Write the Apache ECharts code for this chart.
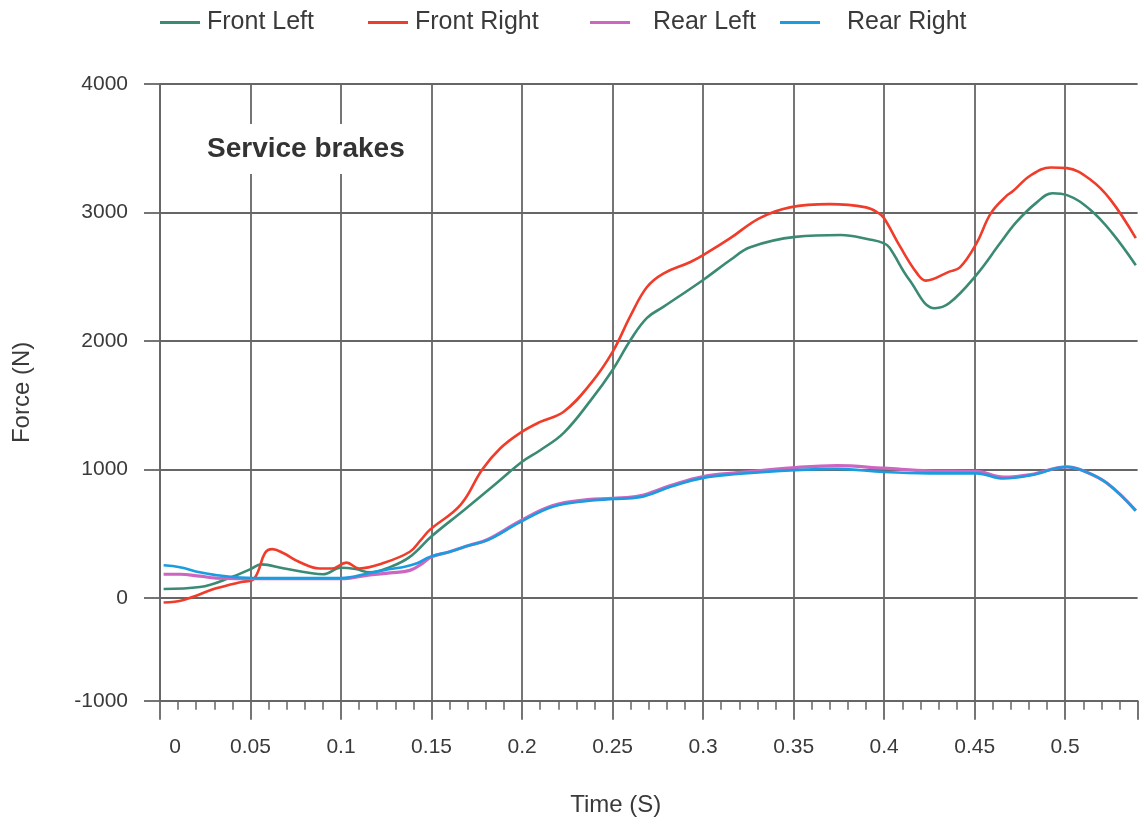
<!DOCTYPE html>
<html><head><meta charset="utf-8">
<script src="https://cdn.jsdelivr.net/npm/echarts@6/dist/echarts.min.js"></script>
<style>html,body{margin:0;padding:0;background:#fff}#c{width:1146px;height:827px}</style>
</head><body><div id="c"></div>
<script>
const seriesNames = ['Front Left', 'Front Right', 'Rear Left', 'Rear Right'];
const seriesColors = ['#3a8a74', '#f03c2a', '#cc66c0', '#1a9de0'];
const chartTitle = 'Service brakes';
const xName = 'Time (S)';
const yName = 'Force (N)';
const yBottomLabel = '-1000';

const frontLeft = [[0.002,70],[0.022,85],[0.040,165],[0.05,225],[0.056,262],[0.068,232],[0.083,195],[0.09,185],[0.1,235],[0.108,225],[0.116,200],[0.127,240],[0.138,320],[0.15,480],[0.168,685],[0.186,895],[0.2,1060],[0.21,1150],[0.223,1285],[0.238,1540],[0.25,1775],[0.26,2010],[0.269,2180],[0.278,2265],[0.3,2475],[0.315,2630],[0.326,2730],[0.351,2810],[0.376,2825],[0.392,2790],[0.4,2760],[0.403,2725],[0.414,2475],[0.428,2255],[0.436,2295],[0.451,2515],[0.464,2760],[0.473,2925],[0.484,3075],[0.493,3150],[0.501,3135],[0.514,3020],[0.526,2840],[0.539,2590]];

const frontRight = [[0.002,-35],[0.013,-15],[0.031,75],[0.045,125],[0.051,140],[0.054,200],[0.058,350],[0.062,380],[0.068,350],[0.077,280],[0.088,230],[0.095,230],[0.103,275],[0.11,230],[0.123,270],[0.138,360],[0.144,450],[0.149,530],[0.166,725],[0.178,1000],[0.188,1165],[0.199,1285],[0.21,1370],[0.223,1450],[0.238,1670],[0.25,1915],[0.26,2200],[0.269,2420],[0.278,2525],[0.293,2615],[0.302,2685],[0.315,2800],[0.331,2955],[0.348,3040],[0.37,3065],[0.39,3040],[0.397,2995],[0.4,2955],[0.409,2730],[0.418,2530],[0.423,2470],[0.436,2540],[0.442,2575],[0.451,2760],[0.459,2995],[0.468,3135],[0.471,3165],[0.481,3290],[0.492,3350],[0.501,3345],[0.514,3255],[0.525,3100],[0.539,2800]];

const rearLeft = [[0.002,185],[0.011,185],[0.022,170],[0.031,155],[0.055,150],[0.08,150],[0.1,150],[0.105,155],[0.116,180],[0.127,195],[0.138,215],[0.145,270],[0.15,320],[0.16,360],[0.171,410],[0.181,455],[0.199,600],[0.217,720],[0.236,765],[0.25,775],[0.265,795],[0.282,875],[0.3,945],[0.319,975],[0.351,1015],[0.374,1030],[0.4,1010],[0.425,990],[0.451,985],[0.466,940],[0.481,960],[0.501,1020],[0.51,990],[0.523,895],[0.539,680]];

const rearRight = [[0.002,255],[0.011,240],[0.022,200],[0.03,180],[0.039,165],[0.055,155],[0.08,155],[0.1,155],[0.116,195],[0.127,225],[0.134,240],[0.142,270],[0.149,320],[0.16,360],[0.171,410],[0.181,450],[0.199,590],[0.217,710],[0.236,755],[0.25,770],[0.265,785],[0.282,865],[0.3,935],[0.319,965],[0.351,995],[0.374,1005],[0.4,980],[0.425,970],[0.451,970],[0.466,930],[0.481,955],[0.501,1020],[0.51,990],[0.523,895],[0.539,680]];

const seriesData = [frontLeft, frontRight, rearLeft, rearRight];

const FONT = '"Liberation Sans", Arial, sans-serif';
const GRIDC = '#666';
const TXT = '#3a3a3a';
const chart = echarts.init(document.getElementById('c'), null, {renderer: 'canvas'});

const legendLefts = [160, 368, 590, 780];
const legendPads = [2, 2, 18, 22];

chart.setOption({
  backgroundColor: '#fff',
  animation: false,
  title: {
    text: chartTitle, left: 203, top: 124,
    backgroundColor: '#fff', padding: [10, 4, 10, 4],
    textStyle: {fontFamily: FONT, fontSize: 28, fontWeight: 'bold', color: '#333', lineHeight: 30}
  },
  legend: seriesNames.map((n, i) => ({
    data: [n], left: legendLefts[i], top: 10, icon: 'rect', itemWidth: 40, itemHeight: 3, itemGap: 0,
    padding: 0,
    textStyle: {fontFamily: FONT, fontSize: 25, color: TXT, padding: [0, 0, 0, legendPads[i]]}
  })),
  grid: {left: 160, right: 8.4, top: 84, bottom: 126.2, containLabel: false},
  xAxis: {
    type: 'value', min: 0, max: 0.54, interval: 0.05,
    name: xName, nameLocation: 'middle', nameGap: 93,
    nameTextStyle: {fontFamily: FONT, fontSize: 24, color: TXT, padding: [0, 66, 0, 0]},
    axisLine: {show: true, onZero: false, lineStyle: {color: GRIDC, width: 1.8}},
    axisTick: {show: true, length: 19, lineStyle: {color: GRIDC, width: 1.8}},
    minorTick: {show: true, splitNumber: 5, length: 9, lineStyle: {color: GRIDC, width: 1.5}},
    splitLine: {show: true, showMaxLine: false, lineStyle: {color: GRIDC, width: 1.8}},
    axisLabel: {
      margin: 36, showMaxLabel: false, fontFamily: FONT, fontSize: 21, color: TXT,
      formatter: v => v === 0 ? '{z|0}' : String(+v.toFixed(2)),
      rich: {z: {fontFamily: FONT, fontSize: 21, color: TXT, padding: [0, 0, 0, 30]}}
    }
  },
  yAxis: {
    type: 'value', min: -800, max: 4000, splitNumber: 5,
    name: yName, nameLocation: 'middle', nameGap: 126, nameRotate: 90,
    nameTextStyle: {fontFamily: FONT, fontSize: 24, color: TXT},
    axisLine: {show: true, onZero: false, lineStyle: {color: GRIDC, width: 1.8}},
    axisTick: {show: true, length: 16, lineStyle: {color: GRIDC, width: 1.8}},
    splitLine: {show: true, lineStyle: {color: GRIDC, width: 1.8}},
    axisLabel: {
      margin: 32, fontFamily: FONT, fontSize: 21, color: TXT,
      formatter: v => v === -800 ? yBottomLabel : String(v)
    }
  },
  series: seriesNames.map((n, i) => ({
    name: n, type: 'line', data: seriesData[i], smooth: 0.4, symbol: 'none',
    color: seriesColors[i],
    lineStyle: {color: seriesColors[i], width: i === 2 ? 3.2 : 2.6},
    z: 3 + i
  }))
});
</script></body></html>
